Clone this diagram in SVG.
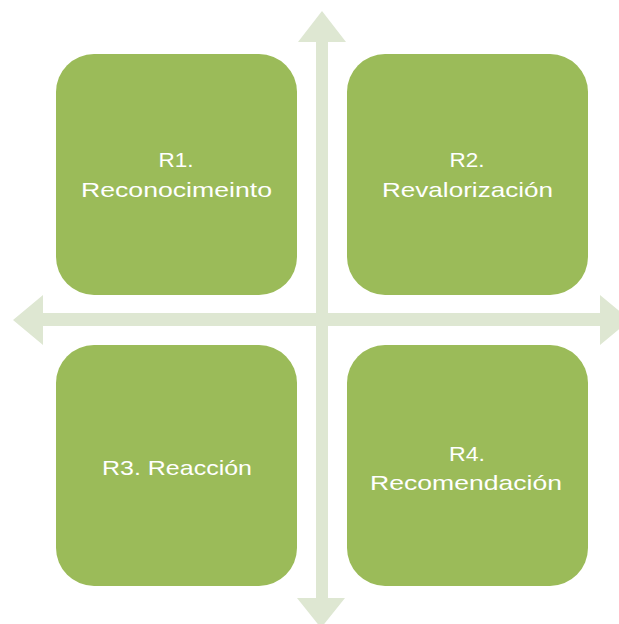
<svg xmlns="http://www.w3.org/2000/svg" width="619" height="624" viewBox="0 0 619 624">
  <style>
    .axis { fill: #DEE7D2; }
    .box { fill: #9BBB59; }
    .label { fill: #FFFFFF; font-family: "Liberation Sans", Arial, sans-serif; font-size: 21px; text-anchor: middle; }
  </style>

  <!-- Cross of double-headed arrows behind the quadrants -->
  <g id="connectors">
    <!-- vertical axis: up and down heads -->
    <polygon class="axis" points="322,11 346,42 328,42 328,598 345,598 321,628 297,598 316,598 316,42 298,42"/>
    <!-- horizontal axis: left and right heads -->
    <polygon class="axis" points="13,320 43,295 43,313 600,313 600,295 630,320 600,345 600,326 43,326 43,345"/>
  </g>

  <g id="r1">
    <rect class="box" x="56" y="54" width="241" height="241" rx="38" ry="38"/>
    <text class="label" x="176" y="167" textLength="35" lengthAdjust="spacingAndGlyphs">R1.</text>
    <text class="label" x="176.5" y="197" textLength="191" lengthAdjust="spacingAndGlyphs">Reconocimeinto</text>
  </g>

  <g id="r2">
    <rect class="box" x="347" y="54" width="241" height="241" rx="38" ry="38"/>
    <text class="label" x="467" y="167" textLength="35" lengthAdjust="spacingAndGlyphs">R2.</text>
    <text class="label" x="467.5" y="197" textLength="171" lengthAdjust="spacingAndGlyphs">Revalorización</text>
  </g>

  <g id="r3">
    <rect class="box" x="56" y="345" width="241" height="241" rx="38" ry="38"/>
    <text class="label" x="177" y="475" textLength="150" lengthAdjust="spacingAndGlyphs">R3. Reacción</text>
  </g>

  <g id="r4">
    <rect class="box" x="347" y="345" width="241" height="241" rx="38" ry="38"/>
    <text class="label" x="467" y="461" textLength="36" lengthAdjust="spacingAndGlyphs">R4.</text>
    <text class="label" x="466" y="490" textLength="192" lengthAdjust="spacingAndGlyphs">Recomendación</text>
  </g>
</svg>
